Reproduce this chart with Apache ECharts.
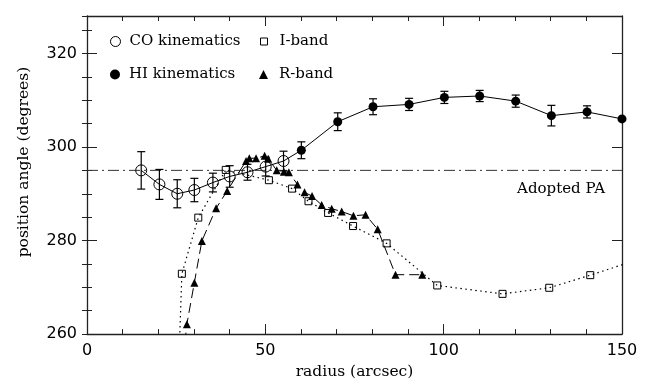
<!DOCTYPE html>
<html>
<head>
<meta charset="utf-8">
<script src="https://cdn.jsdelivr.net/npm/echarts@6/dist/echarts.min.js"></script>
<style>
  html, body { margin: 0; padding: 0; background: #fff; }
  #chart { width: 649px; height: 385px; }
</style>
</head>
<body>
<div id="chart"></div>
<script>
// CO kinematics: radius (arcsec), position angle (deg), 1-sigma error (deg)
var coRadius = [15.2, 20.3, 25.3, 30.1, 35.3, 40.0, 45.0, 50.1, 55.1];
var coPA     = [295.0, 292.0, 290.0, 290.8, 292.4, 293.7, 294.6, 295.8, 297.0];
var coErr    = [4.0, 3.2, 3.0, 2.5, 2.0, 2.3, 1.7, 2.0, 2.1];

// HI kinematics
var hiRadius = [60.1, 70.3, 80.2, 90.3, 100.2, 110.1, 120.2, 130.2, 140.2, 150.0];
var hiPA     = [299.3, 305.4, 308.6, 309.1, 310.6, 310.9, 309.8, 306.7, 307.5, 306.0];
var hiErr    = [1.8, 1.9, 1.7, 1.3, 1.3, 1.2, 1.3, 2.2, 1.3, 0];

// I-band isophote position angles
var iRadius = [25.8, 26.6, 31.2, 38.9, 51.0, 57.5, 62.1, 67.6, 74.6, 84.0, 98.2, 116.5, 129.6, 141.1, 156.0];
var iPA     = [255.0, 272.9, 284.9, 295.1, 292.9, 291.1, 288.4, 285.9, 283.1, 279.4, 270.4, 268.6, 269.9, 272.6, 276.3];

// R-band isophote position angles
var rRadius = [27.0, 28.0, 30.1, 32.2, 36.2, 39.3, 44.6, 45.5, 47.4, 49.8, 50.8, 53.2, 55.2, 56.6, 59.0, 61.0, 63.1, 65.8, 68.6, 71.4, 74.7, 78.1, 81.5, 86.5, 94.0];
var rPA     = [255.0, 262.1, 271.0, 279.9, 286.9, 290.6, 297.0, 297.6, 297.6, 298.1, 297.5, 295.0, 294.7, 294.6, 292.0, 290.3, 289.5, 287.6, 286.8, 286.2, 285.3, 285.5, 282.4, 272.7, 272.7];

var adoptedPA = 295;

// axis ranges and ticks
var xMin = 0, xMax = 150, xStep = 50, xMinorSplit = 5;
var yMin = 260, yMax = 328, yStep = 20, yMinorStep = 5;

function pairs(xs, ys) { return xs.map(function (x, i) { return [x, ys[i]]; }); }
function bars(xs, ys, es) { return xs.map(function (x, i) { return [x, ys[i] - es[i], ys[i] + es[i]]; }); }

var serif = 'DejaVu Serif';
var sans = 'DejaVu Sans';
var ink = '#000';

var chart = echarts.init(document.getElementById('chart'), null, { renderer: 'canvas' });

function errorBarRender(params, api) {
  var x = api.value(0), lo = api.value(1), hi = api.value(2);
  if (hi === lo) return null;
  var top = api.coord([x, hi]);
  var bot = api.coord([x, lo]);
  var w = 4;
  var st = { stroke: ink, lineWidth: 1.2 };
  return {
    type: 'group',
    children: [
      { type: 'line', shape: { x1: top[0], y1: top[1], x2: bot[0], y2: bot[1] }, style: st },
      { type: 'line', shape: { x1: top[0] - w, y1: top[1], x2: top[0] + w, y2: top[1] }, style: st },
      { type: 'line', shape: { x1: bot[0] - w, y1: bot[1], x2: bot[0] + w, y2: bot[1] }, style: st }
    ]
  };
}

var frameLine = { show: true, onZero: false, lineStyle: { color: '#222', width: 1.3 } };

function legendItem(name, icon, style, left, top, size, gap) {
  return {
    data: [{ name: name, icon: icon, itemStyle: style }],
    left: left, top: top,
    itemWidth: size, itemHeight: size,
    itemGap: 0,
    selectedMode: false,
    textStyle: { fontFamily: serif, fontSize: 15, color: ink, padding: [0, 0, 0, gap] }
  };
}

var option = {
  backgroundColor: '#fff',
  animation: false,
  grid: { left: 87, right: 27, top: 16, bottom: 45, containLabel: false },
  legend: [
    legendItem('CO kinematics', 'circle', { color: 'rgba(0,0,0,0)', borderColor: ink, borderWidth: 1, opacity: 1 }, 105, 29, 10, 4),
    legendItem('HI kinematics', 'circle', { color: ink, borderWidth: 0, opacity: 1 }, 105, 62, 10, 4),
    legendItem('I-band', 'rect', { color: 'rgba(0,0,0,0)', borderColor: ink, borderWidth: 1, opacity: 1 }, 255, 29, 7, 7),
    legendItem('R-band', 'triangle', { color: ink, borderWidth: 0, opacity: 1 }, 254, 62, 9, 6)
  ],
  xAxis: [
    {
      type: 'value', min: xMin, max: xMax, interval: xStep, position: 'bottom',
      name: 'radius (arcsec)', nameLocation: 'middle', nameGap: 28,
      nameTextStyle: { fontFamily: serif, fontSize: 15.5, color: ink },
      axisLine: frameLine,
      axisTick: { show: true, inside: true, length: 10, lineStyle: { color: '#222', width: 1 } },
      minorTick: { show: true, splitNumber: xMinorSplit, length: 5, lineStyle: { color: '#222', width: 1 } },
      axisLabel: { show: true, margin: 9, fontFamily: sans, fontSize: 16, color: ink },
      splitLine: { show: false }
    },
    {
      type: 'value', min: xMin, max: xMax, interval: xStep, position: 'top',
      axisLine: frameLine,
      axisTick: { show: true, inside: true, length: 10, lineStyle: { color: '#222', width: 1 } },
      minorTick: { show: true, splitNumber: xMinorSplit, length: 5, lineStyle: { color: '#222', width: 1 } },
      axisLabel: { show: false },
      splitLine: { show: false }
    }
  ],
  yAxis: [
    {
      type: 'value', min: yMin, max: yMax, interval: yStep, position: 'left',
      name: 'position angle (degrees)', nameLocation: 'middle', nameGap: 55, nameRotate: 90,
      nameTextStyle: { fontFamily: serif, fontSize: 15.5, color: ink, padding: [0, 0, 0, 26] },
      axisLine: frameLine,
      axisTick: { show: true, inside: true, length: 10, lineStyle: { color: '#222', width: 1 } },
      axisLabel: {
        show: true, margin: 10, fontFamily: sans, fontSize: 16, color: ink,
        formatter: function (v) { return (v - yMin) % yStep === 0 ? String(v) : ''; }
      },
      splitLine: { show: false }
    },
    {
      type: 'value', min: yMin, max: yMax, interval: yMinorStep, position: 'left',
      axisLine: { show: false },
      axisTick: { show: true, inside: true, length: 5, lineStyle: { color: '#222', width: 1 } },
      axisLabel: { show: false },
      splitLine: { show: false }
    },
    {
      type: 'value', min: yMin, max: yMax, interval: yStep, position: 'right',
      axisLine: frameLine,
      axisTick: { show: true, inside: true, length: 10, lineStyle: { color: '#222', width: 1 } },
      axisLabel: { show: false },
      splitLine: { show: false }
    },
    {
      type: 'value', min: yMin, max: yMax, interval: yMinorStep, position: 'right',
      axisLine: { show: false },
      axisTick: { show: true, inside: true, length: 5, lineStyle: { color: '#222', width: 1 } },
      axisLabel: { show: false },
      splitLine: { show: false }
    }
  ],
  graphic: [
    {
      type: 'text', right: 649 - 605, top: 182,
      style: { text: 'Adopted PA', font: '15px "DejaVu Serif"', fill: ink }
    }
  ],
  series: [
    {
      name: 'adopted',
      type: 'line',
      data: [[xMin, adoptedPA], [xMax, adoptedPA]],
      showSymbol: false,
      symbol: 'none',
      silent: true,
      lineStyle: { color: '#333', width: 1, type: [11, 4, 2, 4] },
      z: 1
    },
    {
      name: 'kinematic profile',
      type: 'line',
      data: pairs(coRadius, coPA).concat(pairs(hiRadius, hiPA)),
      symbol: 'none',
      silent: true,
      lineStyle: { color: ink, width: 1 },
      z: 2
    },
    {
      name: 'CO errors',
      type: 'custom',
      data: bars(coRadius, coPA, coErr),
      encode: { x: 0, y: [1, 2] },
      renderItem: errorBarRender,
      z: 3
    },
    {
      name: 'HI errors',
      type: 'custom',
      data: bars(hiRadius, hiPA, hiErr),
      encode: { x: 0, y: [1, 2] },
      renderItem: errorBarRender,
      z: 3
    },
    {
      name: 'I-band',
      type: 'line',
      data: pairs(iRadius, iPA),
      clip: true,
      symbol: 'rect',
      symbolSize: 7,
      showAllSymbol: true,
      itemStyle: { color: 'rgba(0,0,0,0)', borderColor: ink, borderWidth: 1, opacity: 1 },
      lineStyle: { color: ink, width: 1.2, type: [1.5, 3.5] },
      z: 4
    },
    {
      name: 'R-band',
      type: 'line',
      data: pairs(rRadius, rPA),
      clip: true,
      symbol: 'triangle',
      symbolSize: 8,
      showAllSymbol: true,
      itemStyle: { color: ink, borderWidth: 0, opacity: 1 },
      lineStyle: { color: ink, width: 1, type: [10, 5] },
      z: 4
    },
    {
      name: 'CO kinematics',
      type: 'scatter',
      data: pairs(coRadius, coPA),
      symbol: 'circle',
      symbolSize: 11,
      itemStyle: { color: 'rgba(0,0,0,0)', borderColor: ink, borderWidth: 1, opacity: 1 },
      z: 5
    },
    {
      name: 'HI kinematics',
      type: 'scatter',
      data: pairs(hiRadius, hiPA),
      symbol: 'circle',
      symbolSize: 9,
      itemStyle: { color: ink, opacity: 1 },
      z: 5
    }
  ]
};

chart.setOption(option);
</script>
</body>
</html>
